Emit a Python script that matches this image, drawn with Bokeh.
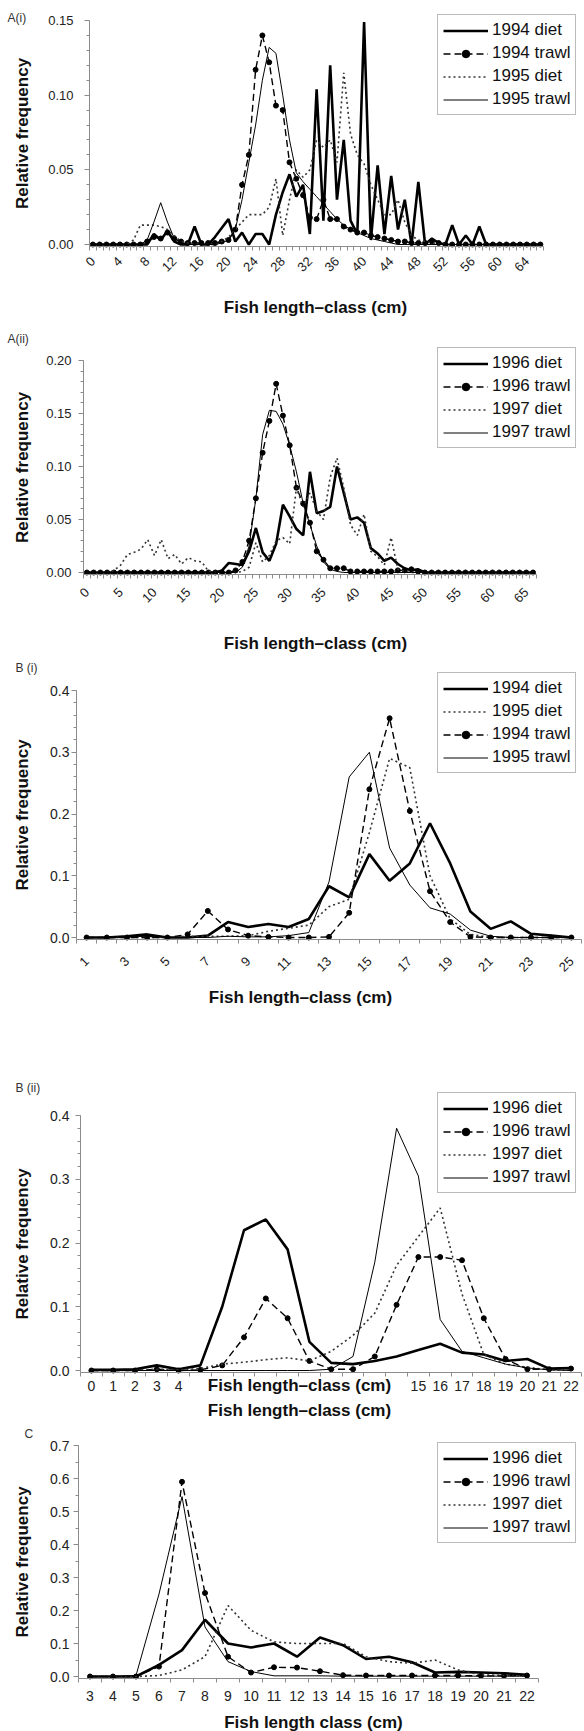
import math
from bokeh.plotting import figure
from bokeh.models import (Range1d, FixedTicker, NumeralTickFormatter, Legend,
                          LegendItem, Label)
from bokeh.layouts import column
from bokeh.embed import file_html
from bokeh.resources import INLINE

# ---------------------------------------------------------------- data
# Panel A(i): length classes 0..66 cm
a1_cats = list(range(0, 67))
a1_xlabels = [0, 4, 8, 12, 16, 20, 24, 28, 32, 36, 40, 44, 48, 52, 56, 60, 64]
a1_diet94 = [0, 0, 0, 0, 0, 0, 0, 0, 0,
             0.007, 0.003, 0.009, 0.002, 0, 0, 0.012, 0, 0, 0.005, 0.011,
             0.017, 0.002, 0.008, 0, 0.007, 0.007, 0, 0.02, 0.035, 0.047,
             0.032, 0.04, 0.007, 0.104, 0.016, 0.12, 0.03, 0.07, 0.016, 0.007,
             0.149, 0.003, 0.053, 0.007, 0.046, 0.01, 0.03, 0, 0.042, 0,
             0.004, 0.001, 0, 0.013, 0, 0.006, 0, 0.012,
             0, 0, 0, 0, 0, 0, 0, 0, 0]
a1_trawl94 = [0, 0, 0, 0, 0, 0, 0, 0,
              0.002, 0.005, 0.004, 0.008, 0.004, 0.002, 0.001, 0.001, 0.001,
              0.001, 0.001, 0.002, 0.003, 0.01, 0.04, 0.06, 0.117, 0.14, 0.122,
              0.093, 0.09, 0.055, 0.044, 0.033, 0.018, 0.017, 0.03, 0.017,
              0.017, 0.012, 0.01, 0.008, 0.008, 0.006, 0.005, 0.004, 0.003,
              0.002, 0.002, 0.001, 0.001, 0.001, 0.002, 0.001,
              0, 0, 0, 0, 0, 0, 0, 0, 0, 0, 0, 0, 0, 0, 0]
a1_diet95 = [0, 0, 0, 0, 0, 0,
             0.003, 0.013, 0.013, 0.013, 0.012, 0.01, 0.006, 0.002, 0.001, 0,
             0, 0, 0, 0.002, 0.005, 0.01, 0.015, 0.02, 0.02, 0.02, 0.025,
             0.044, 0.006, 0.03, 0.05, 0.045, 0.05, 0.07, 0.065, 0.07, 0.055,
             0.115, 0.074, 0.06, 0.054, 0.04, 0.03, 0.02, 0.02, 0.03, 0.015,
             0.006, 0.003, 0.002, 0.001,
             0, 0, 0, 0, 0, 0, 0, 0, 0, 0, 0, 0, 0, 0, 0, 0]
a1_trawl95 = [0, 0, 0, 0, 0, 0, 0, 0,
              0.003, 0.015, 0.028, 0.015, 0.004, 0.001,
              0, 0, 0, 0, 0,
              0.001, 0.003, 0.01, 0.03, 0.055, 0.08, 0.11, 0.132, 0.128, 0.1,
              0.07, 0.048, 0.042, 0.037, 0.032, 0.027, 0.022, 0.017, 0.013,
              0.01, 0.008, 0.006, 0.004, 0.003, 0.002, 0.001,
              0, 0, 0, 0, 0, 0, 0, 0, 0, 0, 0, 0, 0, 0, 0, 0, 0, 0, 0, 0, 0, 0]

# Panel A(ii): length classes 0..66 cm
a2_cats = list(range(0, 67))
a2_xlabels = [0, 5, 10, 15, 20, 25, 30, 35, 40, 45, 50, 55, 60, 65]
a2_diet96 = [0] * 20 + [
    0.002, 0.009, 0.008, 0.007, 0.02, 0.042, 0.019, 0.011, 0.027, 0.064,
    0.053, 0.041, 0.035, 0.095, 0.056, 0.058, 0.062, 0.1, 0.075, 0.05,
    0.052, 0.047, 0.023, 0.018, 0.011, 0.014, 0.008, 0.004, 0.002, 0.003] + [0] * 17
a2_trawl96 = [0] * 22 + [
    0.002, 0.01, 0.03, 0.07, 0.113, 0.143, 0.178, 0.148, 0.12, 0.08,
    0.065, 0.047, 0.02, 0.012, 0.004, 0.004, 0.004, 0.001, 0.001, 0.001,
    0.001, 0.001, 0.001, 0.001, 0.002, 0.002, 0.003, 0.001] + [0] * 17
a2_diet97 = [0, 0, 0, 0,
             0.002, 0.007, 0.017, 0.019, 0.022, 0.031, 0.016, 0.031, 0.013,
             0.017, 0.008, 0.014, 0.011, 0.01, 0.001, 0, 0, 0, 0, 0.001,
             0.005, 0.028, 0.01, 0.016, 0.03, 0.033, 0.027, 0.08, 0.062,
             0.075, 0.058, 0.05, 0.09, 0.108, 0.08, 0.045, 0.035, 0.055, 0.02,
             0.015, 0.007, 0.033, 0.003, 0.001] + [0] * 19
a2_trawl97 = [0] * 23 + [
    0.005, 0.025, 0.07, 0.13, 0.153, 0.152, 0.14, 0.12, 0.095, 0.065,
    0.045, 0.025, 0.01, 0.003, 0.001] + [0] * 29

# Panel B(i): length classes 1..25 cm
b1_cats = list(range(1, 26))
b1_xlabels = [1, 3, 5, 7, 9, 11, 13, 15, 17, 19, 21, 23, 25]
b1_diet94 = [0, 0, 0.002, 0.005, 0, 0, 0.003, 0.025, 0.017, 0.022, 0.017,
             0.03, 0.083, 0.065, 0.135, 0.092, 0.12, 0.185, 0.12, 0.042,
             0.014, 0.026, 0.006, 0.003, 0]
b1_diet95 = [0, 0, 0, 0, 0, 0.002, 0.002, 0.002, 0.003, 0.01, 0.015, 0.02,
             0.05, 0.062, 0.17, 0.29, 0.275, 0.1, 0.03, 0.005, 0, 0, 0, 0, 0]
b1_trawl94 = [0, 0, 0, 0, 0, 0.005, 0.043, 0.013, 0.003, 0.001, 0, 0, 0.001,
              0.04, 0.24, 0.355, 0.205, 0.075, 0.025, 0.001, 0, 0, 0, 0, 0]
b1_trawl95 = [0, 0, 0.001, 0.002, 0, 0, 0, 0.002, 0.001, 0.001, 0.003,
              0.008, 0.09, 0.26, 0.3, 0.145, 0.085, 0.048, 0.038, 0.012,
              0.002, 0, 0, 0, 0]

# Panel B(ii): length classes 0..22 cm
b2_cats = list(range(0, 23))
b2_xlabels = list(range(0, 23))
b2_hidden = [5, 6, 7, 8, 9, 10, 11, 12, 13, 14]
b2_diet96 = [0.001, 0.001, 0.002, 0.008, 0.002, 0.008, 0.1, 0.22, 0.237,
             0.19, 0.045, 0.012, 0.01, 0.015, 0.022, 0.032, 0.042, 0.028,
             0.025, 0.015, 0.018, 0.003, 0.004]
b2_trawl96 = [0, 0, 0, 0.002, 0, 0.001, 0.008, 0.052, 0.113, 0.082, 0.015,
              0.002, 0.002, 0.022, 0.103, 0.178, 0.178, 0.173, 0.082, 0.018,
              0.002, 0.002, 0.003]
b2_diet97 = [0, 0, 0, 0.002, 0.001, 0.003, 0.01, 0.013, 0.017, 0.02, 0.015,
             0.03, 0.055, 0.09, 0.165, 0.21, 0.255, 0.12, 0.025, 0.01, 0.005,
             0.001, 0.001]
b2_trawl97 = [0, 0, 0, 0, 0, 0, 0, 0, 0, 0, 0, 0.002, 0.022, 0.17, 0.38,
              0.305, 0.08, 0.03, 0.02, 0.01, 0.004, 0.001, 0]

# Panel C: length classes 3..22 cm
c_cats = list(range(3, 23))
c_xlabels = list(range(3, 23))
c_diet96 = [0, 0, 0, 0.035, 0.08, 0.172, 0.1, 0.088, 0.1, 0.06, 0.118,
            0.095, 0.053, 0.06, 0.043, 0.012, 0.014, 0.012, 0.01, 0.005]
c_trawl96 = [0, 0, 0, 0.03, 0.59, 0.253, 0.06, 0.012, 0.028, 0.027, 0.016,
             0.004, 0.003, 0.003, 0.003, 0.003, 0.003, 0.002, 0.002, 0.003]
c_diet97 = [0, 0, 0, 0.003, 0.02, 0.06, 0.215, 0.14, 0.105, 0.1, 0.1, 0.1,
            0.06, 0.045, 0.04, 0.05, 0.02, 0.005, 0.003, 0.002]
c_trawl97 = [0, 0, 0.003, 0.25, 0.545, 0.15, 0.045, 0.015, 0.002, 0.002,
             0.002, 0.001, 0.001, 0.001, 0.001, 0.001, 0.001, 0.001, 0.001,
             0.001]

# ---------------------------------------------------------------- styles
FONT = "Liberation Sans"
STYLES = {
    "thick": dict(line_width=2.6, line_color="black"),
    "dash": dict(line_width=1.4, line_color="black", line_dash="7 4"),
    "dot": dict(line_width=1.6, line_color="#333333", line_dash="2 3"),
    "thin": dict(line_width=1.0, line_color="black"),
}
AXIS_COLOR = "#8c8c8c"
W = 584


def panel(cats, series, g, yticks, yminor, yfmt, xlabels, xrot, xfont,
          tag, xtitle, hidden=None):
    H = g["h"]
    ppx = g["ppx"]
    ytop = yticks[-1]
    ppy = (g["zero"] - g["ytop_px"]) / ytop
    fig_bottom = g["top"] + H
    x0 = cats[0] - 0.5 - g["ax"] / ppx
    xr = (x0, x0 + W / ppx)
    yr = (-(fig_bottom - g["zero"]) / ppy, (g["zero"] - g["top"]) / ppy)

    def to_data(px, py):
        return xr[0] + px / ppx, yr[0] + (fig_bottom - py) / ppy

    p = figure(frame_width=W, frame_height=H,
               min_border_left=0, min_border_right=0,
               min_border_top=0, min_border_bottom=0,
               x_range=Range1d(*xr), y_range=Range1d(*yr),
               output_backend="svg", toolbar_location=None)
    p.outline_line_color = None
    p.xgrid.visible = False
    p.ygrid.visible = False
    p.background_fill_color = "white"
    p.border_fill_color = "white"

    items = []
    for label, ys, style in series:
        rs = [p.line(cats, ys, **STYLES[style])]
        if style == "dash":
            rs.append(p.scatter(cats, ys, size=5, marker="circle",
                                color="black"))
        items.append(LegendItem(label=label, renderers=rs))
    lg = Legend(items=items, location=(g["leg"][0], fig_bottom - g["leg"][1]))
    lg.border_line_color = "#777777"
    lg.border_line_width = 1
    lg.background_fill_color = "white"
    lg.background_fill_alpha = 1.0
    lg.label_text_font = FONT
    lg.label_text_font_size = "17px"
    lg.label_text_color = "#111111"
    lg.glyph_width = 45
    lg.glyph_height = 19
    lg.label_height = 19
    lg.label_standoff = 4
    lg.spacing = 3
    lg.padding = 5
    lg.margin = 0
    p.add_layout(lg)

    base = -1.5 / ppy
    # x axis (fixed at the zero line)
    xa = p.xaxis[0]
    xa.fixed_location = base
    xa.bounds = (cats[0] - 0.5, cats[-1] + 0.5)
    xa.ticker = FixedTicker(ticks=xlabels,
                            minor_ticks=[c - 0.5 for c in cats] + [cats[-1] + 0.5])
    xa.axis_line_color = AXIS_COLOR
    xa.major_tick_line_color = None
    xa.major_tick_out = 0
    xa.major_tick_in = 0
    xa.minor_tick_line_color = AXIS_COLOR
    xa.minor_tick_out = 4
    xa.minor_tick_in = 0
    xa.major_label_standoff = g["xstand"]
    xa.major_label_text_font = FONT
    xa.major_label_text_font_size = xfont
    xa.major_label_text_color = "#222222"
    if xrot:
        xa.major_label_orientation = xrot
    if hidden:
        xa.major_label_overrides = {h: "" for h in hidden}

    # y axis (fixed at the left category edge)
    ya = p.yaxis[0]
    ya.fixed_location = cats[0] - 0.5
    ya.bounds = (base, ytop)
    ya.ticker = FixedTicker(ticks=yticks, minor_ticks=yminor)
    ya.formatter = NumeralTickFormatter(format=yfmt)
    ya.axis_line_color = AXIS_COLOR
    ya.major_tick_line_color = AXIS_COLOR
    ya.minor_tick_line_color = AXIS_COLOR
    ya.major_tick_out = 5
    ya.major_tick_in = 0
    ya.minor_tick_out = 3
    ya.minor_tick_in = 0
    ya.major_label_standoff = g["ystand"]
    ya.major_label_text_font = FONT
    ya.major_label_text_font_size = g["yfont"]
    ya.major_label_text_color = "#222222"
    ya.axis_label = "Relative frequency"
    ya.axis_label_text_font = FONT
    ya.axis_label_text_font_style = "bold"
    ya.axis_label_text_font_size = "17px"
    ya.axis_label_text_color = "#111111"
    ya.axis_label_standoff = g["ytstand"]

    tx, ty = to_data(*g["tag"])
    p.add_layout(Label(x=tx, y=ty, text=tag, text_font=FONT,
                       text_font_size="12px", text_color="#333333",
                       text_align="left", text_baseline="middle"))
    for (cx, cy) in g["xt"]:
        dx, dy = to_data(cx, cy)
        p.add_layout(Label(x=dx, y=dy, text=xtitle, text_font=FONT,
                           text_font_size="17px", text_font_style="bold",
                           text_color="#111111", text_align="center",
                           text_baseline="middle"))
    return p


geo_a1 = dict(top=0, h=327, ax=89, ppx=6.78, zero=244, ytop_px=20,
              leg=(437, 115), xstand=9, ystand=11, ytstand=13, yfont="13px",
              tag=(7, 17), xt=[(315, 307)])
geo_a2 = dict(top=327, h=328, ax=83, ppx=6.76, zero=572, ytop_px=360,
              leg=(437, 448), xstand=12, ystand=7, ytstand=11, yfont="13px",
              tag=(7, 338), xt=[(315, 643)])
geo_b1 = dict(top=655, h=390, ax=76, ppx=20.2, zero=937, ytop_px=690,
              leg=(437, 773), xstand=16, ystand=2, ytstand=15, yfont="14px",
              tag=(15, 667), xt=[(300, 997)])
geo_b2 = dict(top=1045, h=375, ax=80, ppx=21.8, zero=1370, ytop_px=1115,
              leg=(437, 1193), xstand=5, ystand=6, ytstand=15, yfont="14px",
              tag=(15, 1087), xt=[(299, 1385), (299, 1410)])
geo_c = dict(top=1420, h=311, ax=78, ppx=23.0, zero=1676, ytop_px=1445,
             leg=(437, 1543), xstand=9, ystand=4, ytstand=15, yfont="14px",
             tag=(24, 1433), xt=[(313, 1722)])

DASH_TITLE = "Fish length\u2013class (cm)"

pA1 = panel(a1_cats,
            [("1994 diet", a1_diet94, "thick"), ("1994 trawl", a1_trawl94, "dash"),
             ("1995 diet", a1_diet95, "dot"), ("1995 trawl", a1_trawl95, "thin")],
            geo_a1, [0, 0.05, 0.10, 0.15],
            [i / 100 for i in range(0, 16)], "0.00",
            a1_xlabels, math.pi / 4, "13px", "A(i)", DASH_TITLE)
pA2 = panel(a2_cats,
            [("1996 diet", a2_diet96, "thick"), ("1996 trawl", a2_trawl96, "dash"),
             ("1997 diet", a2_diet97, "dot"), ("1997 trawl", a2_trawl97, "thin")],
            geo_a2, [0, 0.05, 0.10, 0.15, 0.20],
            [i / 100 for i in range(0, 21)], "0.00",
            a2_xlabels, math.pi / 4, "13px", "A(ii)", DASH_TITLE)
pB1 = panel(b1_cats,
            [("1994 diet", b1_diet94, "thick"), ("1995 diet", b1_diet95, "dot"),
             ("1994 trawl", b1_trawl94, "dash"), ("1995 trawl", b1_trawl95, "thin")],
            geo_b1, [0, 0.1, 0.2, 0.3, 0.4],
            [i / 50 for i in range(0, 21)], "0.0",
            b1_xlabels, math.pi / 4, "13px", "B (i)", DASH_TITLE)
pB2 = panel(b2_cats,
            [("1996 diet", b2_diet96, "thick"), ("1996 trawl", b2_trawl96, "dash"),
             ("1997 diet", b2_diet97, "dot"), ("1997 trawl", b2_trawl97, "thin")],
            geo_b2, [0, 0.1, 0.2, 0.3, 0.4],
            [i / 50 for i in range(0, 21)], "0.0",
            b2_xlabels, 0, "14px", "B (ii)", DASH_TITLE,
            hidden=b2_hidden)
pC = panel(c_cats,
           [("1996 diet", c_diet96, "thick"), ("1996 trawl", c_trawl96, "dash"),
            ("1997 diet", c_diet97, "dot"), ("1997 trawl", c_trawl97, "thin")],
           geo_c, [0, 0.1, 0.2, 0.3, 0.4, 0.5, 0.6, 0.7],
           [i / 20 for i in range(0, 15)], "0.0",
           c_xlabels, 0, "14px", "C", "Fish length class (cm)")

layout = column(pA1, pA2, pB1, pB2, pC, spacing=0)
open("out.html", "w").write(file_html(layout, INLINE))
